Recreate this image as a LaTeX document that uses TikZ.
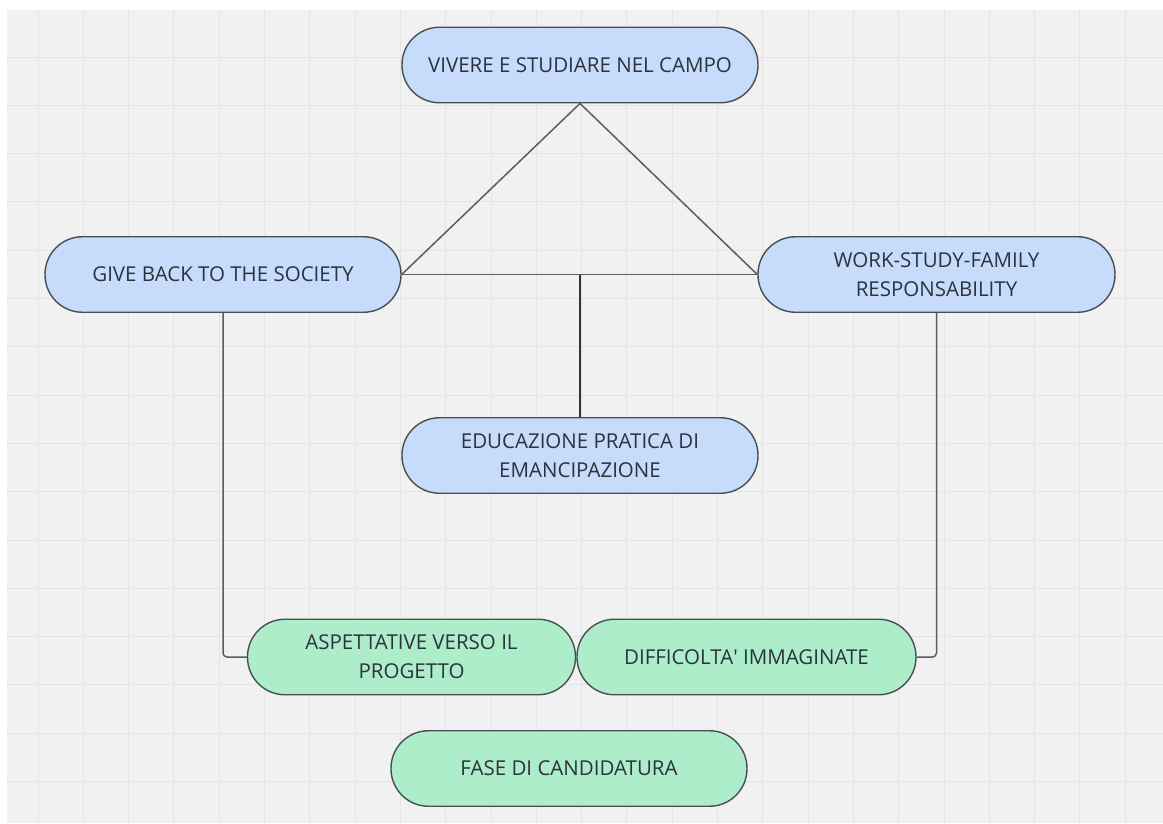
\documentclass[tikz,border=0pt]{standalone}
\usepackage{fontspec}
\setmainfont{Open Sans}
\definecolor{bgc}{HTML}{F1F1F1}
\definecolor{gridc}{HTML}{E4E4E4}
\definecolor{bluef}{HTML}{C6DCFA}
\definecolor{greenf}{HTML}{AEEDC9}
\definecolor{edgec}{HTML}{4A4F56}
\definecolor{txtc}{HTML}{2B3340}
\definecolor{linec}{HTML}{5A5D62}
\begin{document}
\begin{tikzpicture}[x=1pt,y=-1pt,
  pill/.style={draw=edgec, line width=1.4pt, rectangle, rounded corners=37.5pt,
    minimum height=75.5pt, inner sep=0pt, align=center, text=txtc,
    font=\fontsize{20.5}{29}\selectfont},
  bluepill/.style={pill, fill=bluef},
  greenpill/.style={pill, fill=greenf},
  conn/.style={draw=linec, line width=1.5pt},
  stem/.style={draw=black!80, line width=2.8pt},
  gridline/.style={draw=gridc, line width=1pt}]
\useasboundingbox (0,0) rectangle (1163,823);
\fill[white] (0,0) rectangle (1163,823);
\fill[bgc] (7,10) rectangle (1163,823);
\foreach \i in {0,...,24} \draw[gridline] ({38+45.3*\i},10) -- ({38+45.3*\i},823);
\foreach \j in {0,...,15} \draw[gridline] (7,{57+48.3*\j}) -- (1163,{57+48.3*\j});

\node[bluepill, minimum width=356pt] (top) at (580,65) {VIVERE E STUDIARE NEL CAMPO};
\node[bluepill, minimum width=356pt] (give) at (223,274.5) {GIVE BACK TO THE SOCIETY};
\node[bluepill, minimum width=357pt] (work) at (936.5,274.5) {WORK-STUDY-FAMILY\\RESPONSABILITY};
\node[bluepill, minimum width=356pt] (edu) at (580,455.5) {EDUCAZIONE PRATICA DI\\EMANCIPAZIONE};
\node[greenpill, minimum width=328pt] (asp) at (411.5,657) {ASPETTATIVE VERSO IL\\PROGETTO};
\node[greenpill, minimum width=339pt] (diff) at (746.5,657) {DIFFICOLTA\textquotesingle{} IMMAGINATE};
\node[greenpill, minimum width=356pt] (fase) at (569,768.5) {FASE DI CANDIDATURA};

\draw[conn] (top.south) -- (give.east);
\draw[conn] (top.south) -- (work.west);
\draw[conn] (give.east) -- (work.west);
\draw[stem] (edu.north |- give.east) -- (edu.north);
\draw[conn, rounded corners=4pt] (give.south) |- (asp.west);
\draw[conn, rounded corners=4pt] (work.south) |- (diff.east);
\end{tikzpicture}
\end{document}
